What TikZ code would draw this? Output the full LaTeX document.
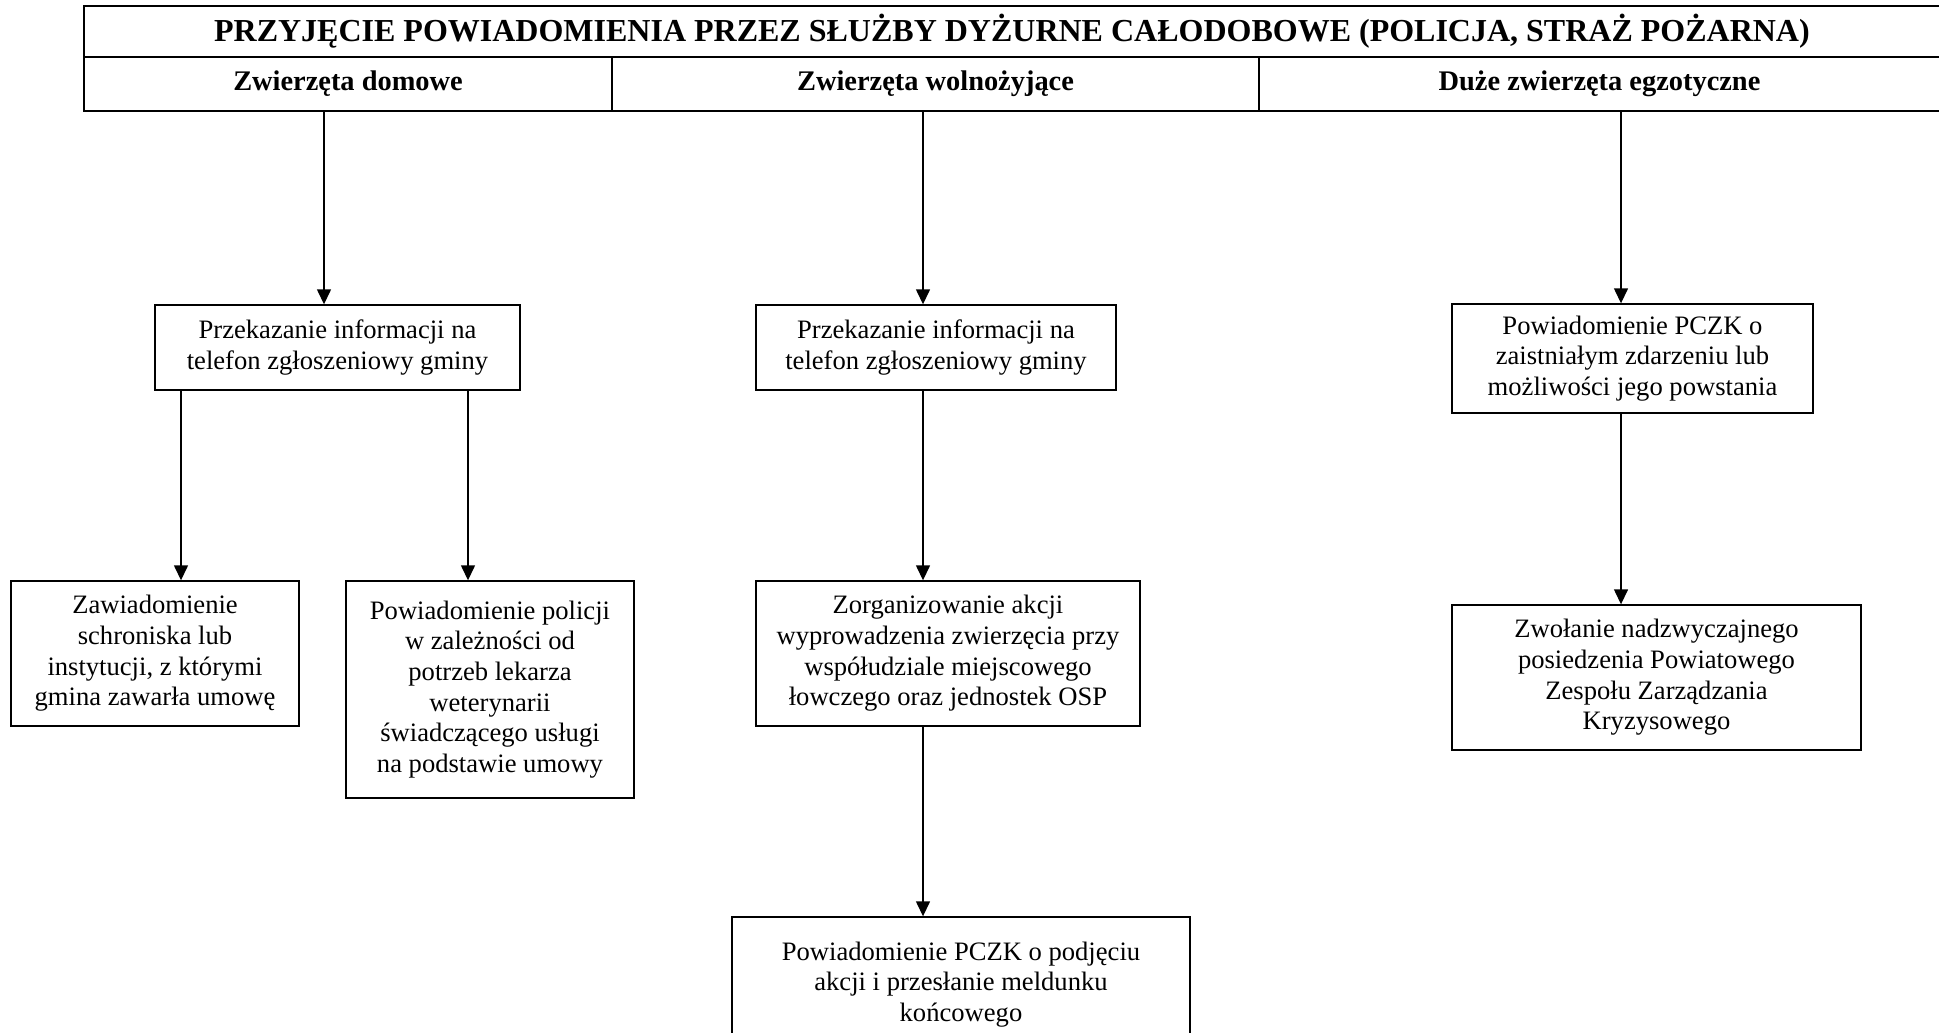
\documentclass[tikz,border=0pt]{standalone}
\usepackage{fontspec}
\setmainfont{Liberation Serif}
\usepackage{tikz}
\usetikzlibrary{arrows.meta}
\tikzset{
    %Define standard arrow tip
    >={Triangle[length=7.5pt,width=7pt]},
    %Define style for header cells
    title/.style={
           rectangle,
           draw=black, line width=1pt,
           inner sep=0pt,
           font=\fontsize{16}{18}\selectfont\bfseries,
           text centered},
    kind/.style={
           rectangle,
           draw=black, line width=1pt,
           inner sep=0pt,
           minimum height=27pt,
           font=\fontsize{14.2}{16}\selectfont\bfseries,
           text centered},
    %Define style for boxes
    stepbox/.style={
           rectangle,
           draw=black, line width=0.7pt,
           inner sep=0pt,
           align=center,
           font=\fontsize{13.3}{15.3}\selectfont},
    % Define arrow style
    pil/.style={
           ->,
           line width=0.7pt}
}
\begin{document}
\begin{tikzpicture}[x=0.5pt,y=-0.5pt]
\useasboundingbox (0,0) rectangle (1939,1033);
% header
\node[title, minimum width=928pt, minimum height=25.5pt] (head) at (1012,31.5)
  {\raisebox{-1.5pt}{PRZYJĘCIE POWIADOMIENIA PRZEZ SŁUŻBY DYŻURNE CAŁODOBOWE (POLICJA, STRAŻ POŻARNA)}};
\node[kind, minimum width=264pt] (dom) at (348,84) {Zwierzęta domowe};
\node[kind, minimum width=323.5pt] (woln) at (935.5,84) {Zwierzęta wolnożyjące};
\node[kind, minimum width=340.5pt] (egz) at (1599.5,84) {Duże zwierzęta egzotyczne};
% lines of the arrows
\coordinate (x1) at (324,0);
\coordinate (x2) at (181,0);
\coordinate (x3) at (468,0);
\coordinate (x4) at (923,0);
\coordinate (x5) at (1621,0);
% boxes
\node[stepbox, minimum width=182.5pt, minimum height=42.5pt] (a1) at (337.5,347.5)
  {Przekazanie informacji na\\telefon zgłoszeniowy gminy};
\node[stepbox, minimum width=144pt, minimum height=72.5pt] (a2) at (155,653.5)
  {Zawiadomienie\\schroniska lub\\instytucji, z którymi\\gmina zawarła umowę};
\node[stepbox, minimum width=144pt, minimum height=108.5pt] (a3) at (490,689.5)
  {Powiadomienie policji\\w zależności od\\potrzeb lekarza\\weterynarii\\świadczącego usługi\\na podstawie umowy};
\node[stepbox, minimum width=180pt, minimum height=42.5pt] (b1) at (936,347.5)
  {Przekazanie informacji na\\telefon zgłoszeniowy gminy};
\node[stepbox, minimum width=192pt, minimum height=72.5pt] (b2) at (948,653.5)
  {Zorganizowanie akcji\\wyprowadzenia zwierzęcia przy\\współudziale miejscowego\\łowczego oraz jednostek OSP};
\node[stepbox, minimum width=229pt, minimum height=67.5pt] (b3) at (961,984.5)
  {Powiadomienie PCZK o podjęciu\\akcji i przesłanie meldunku\\końcowego};
\node[stepbox, minimum width=180.5pt, minimum height=54.5pt] (c1) at (1632.5,358.5)
  {Powiadomienie PCZK o\\zaistniałym zdarzeniu lub\\możliwości jego powstania};
\node[stepbox, minimum width=204.5pt, minimum height=72.5pt] (c2) at (1656.5,677.5)
  {Zwołanie nadzwyczajnego\\posiedzenia Powiatowego\\Zespołu Zarządzania\\Kryzysowego};
% arrows
\draw[pil] (dom.south -| x1) -- (a1.north -| x1);
\draw[pil] (a1.south -| x2) -- (a2.north -| x2);
\draw[pil] (a1.south -| x3) -- (a3.north -| x3);
\draw[pil] (woln.south -| x4) -- (b1.north -| x4);
\draw[pil] (b1.south -| x4) -- (b2.north -| x4);
\draw[pil] (b2.south -| x4) -- (b3.north -| x4);
\draw[pil] (egz.south -| x5) -- (c1.north -| x5);
\draw[pil] (c1.south -| x5) -- (c2.north -| x5);
\end{tikzpicture}
\end{document}
